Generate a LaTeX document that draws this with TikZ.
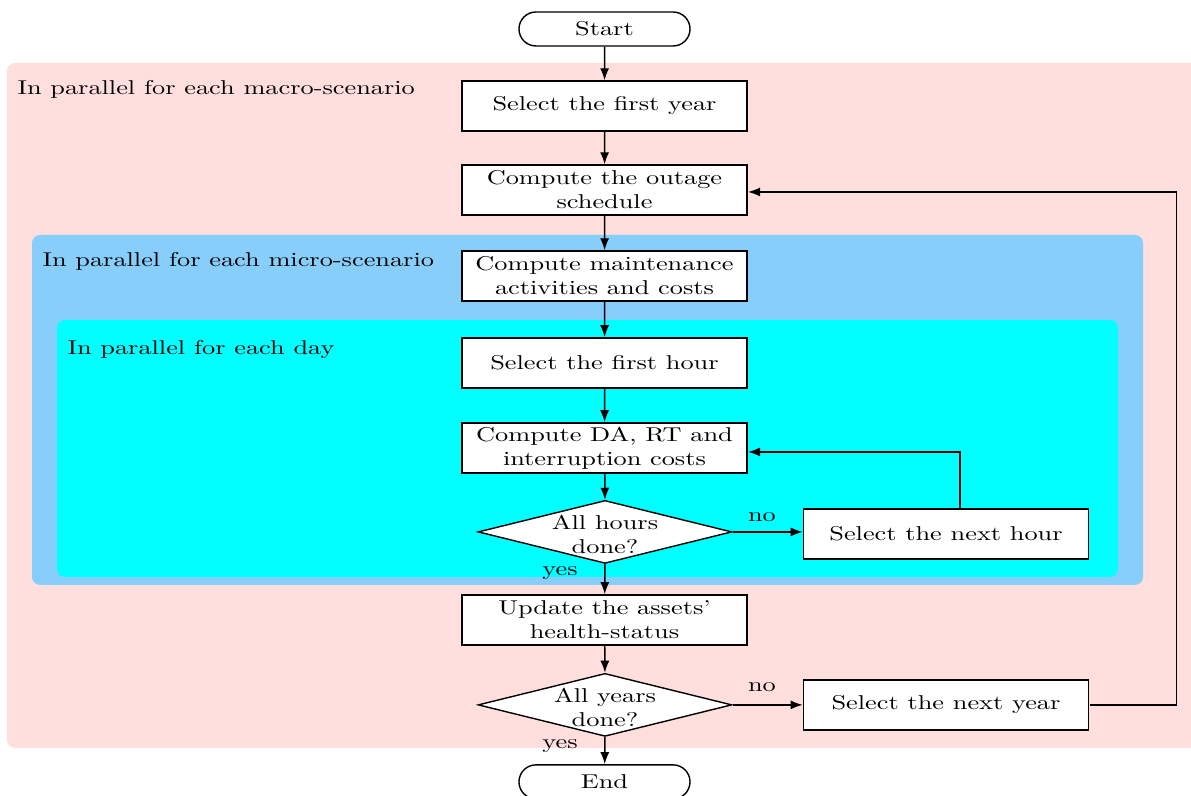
\documentclass[tikz,border=0pt]{standalone}
\usetikzlibrary{shapes.geometric,arrows.meta}
\definecolor{macrobg}{RGB}{255,222,222}
\definecolor{microbg}{RGB}{135,206,250}
\definecolor{daybg}{RGB}{0,255,255}
\begin{document}
\begin{tikzpicture}[x=0.38pt, y=-0.5pt, xscale=1.316, transform shape,
  every node/.style={font=\normalsize},
  stepbox/.style={draw, fill=white, line width=0.7pt, minimum width=108.3pt,
    minimum height=25pt, inner sep=0pt, align=center},
  termbox/.style={draw, fill=white, line width=0.7pt, rounded corners=8.5pt,
    minimum width=65pt, minimum height=17pt, inner sep=0pt},
  decision/.style={draw, fill=white, line width=0.7pt, diamond,
    minimum width=96.5pt, minimum height=31.5pt, inner sep=0pt},
  grouplabel/.style={anchor=west, inner sep=0pt},
  flow/.style={line width=0.7pt, -{Latex[length=6pt,width=4.5pt]}},
  edgelabel/.style={inner sep=0pt}]
  \useasboundingbox (0,0) rectangle (1191,796);
  \clip (0,0) rectangle (1191,796);

  % nested parallel regions
  \fill[macrobg, rounded corners=4pt] (7,63) rectangle (1210,748);
  \fill[microbg, rounded corners=4pt] (32,235) rectangle (1143,585);
  \fill[daybg, rounded corners=4pt] (57,320) rectangle (1118,577);
  \node[grouplabel] (lmacro) at (17,89) {In parallel for each macro-scenario};
  \node[grouplabel] (lmicro) at (42,261) {In parallel for each micro-scenario};
  \node[grouplabel] (lday) at (67,350) {In parallel for each day};

  % flow steps
  \node[termbox] (start) at (604.5,29) {Start};
  \node[stepbox] (year1) at (604.5,106) {Select the first year};
  \node[stepbox] (outage) at (604.5,190) {Compute the outage\\schedule};
  \node[stepbox] (maint) at (604.5,276) {Compute maintenance\\activities and costs};
  \node[stepbox] (hour1) at (604.5,363) {Select the first hour};
  \node[stepbox] (costs) at (604.5,448) {Compute DA, RT and\\interruption costs};
  \node[decision] (hdone) at (605,532) {};
  \node[align=center, inner sep=0pt] (hdonetxt) at (605,535) {All hours\\done?};
  \node[stepbox] (hournext) at (946,534) {Select the next hour};
  \node[stepbox] (health) at (604.5,620) {Update the assets'\\health-status};
  \node[decision] (ydone) at (605,705) {};
  \node[align=center, inner sep=0pt] (ydonetxt) at (605,708) {All years\\done?};
  \node[stepbox] (yearnext) at (946,705) {Select the next year};
  \node[termbox] (end) at (604.5,782) {End};

  % connectors
  \draw[flow] (start) -- (year1);
  \draw[flow] (year1) -- (outage);
  \draw[flow] (outage) -- (maint);
  \draw[flow] (maint) -- (hour1);
  \draw[flow] (hour1) -- (costs);
  \draw[flow] (costs) -- (hdone);
  \draw[flow] (hdone.east) -- (hdone.east -| hournext.west);
  \draw[flow] (hournext.north) ++(14,0) |- ([yshift=-2pt]costs.east);
  \draw[flow] (hdone) -- (health);
  \draw[flow] (health) -- (ydone);
  \draw[flow] (ydone.east) -- (ydone.east -| yearnext.west);
  \draw[flow] (yearnext.east) -- ++(87,0) |- ([yshift=-1pt]outage.east);
  \draw[flow] (ydone) -- (end);

  % branch labels
  \node[edgelabel] (nohour) at (762,517) {no};
  \node[edgelabel] (yeshour) at (560,573) {yes};
  \node[edgelabel] (noyear) at (762,687) {no};
  \node[edgelabel] (yesyear) at (560,746) {yes};
\end{tikzpicture}
\end{document}
